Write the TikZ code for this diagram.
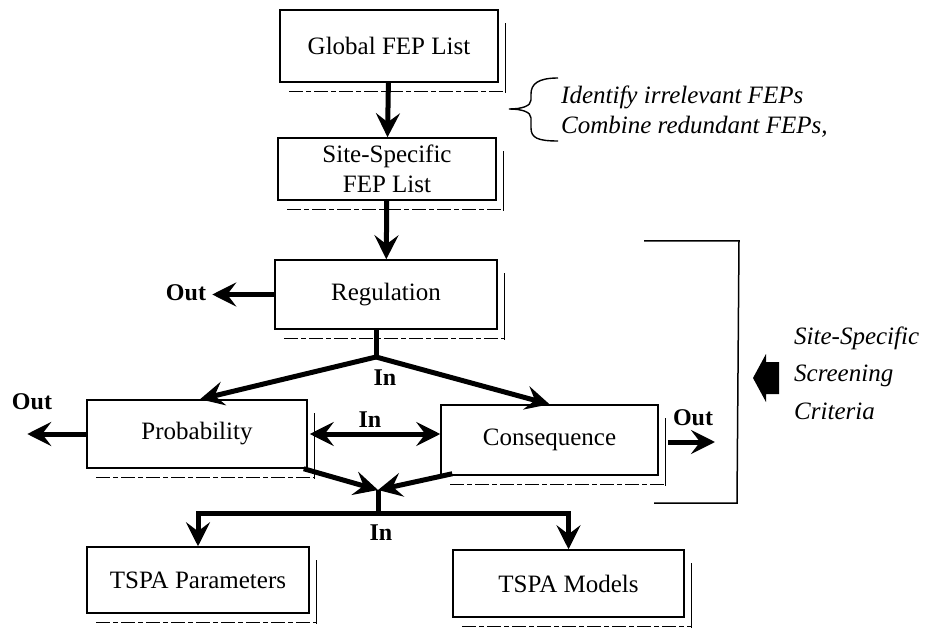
\documentclass[tikz,border=0pt]{standalone}
\usepackage{fontspec}
\setmainfont{Liberation Serif}
\usetikzlibrary{arrows.meta,calc}
\begin{document}
\begin{tikzpicture}[x=1pt,y=-1pt,
  box/.style={draw, line width=1.5pt, inner sep=0pt, align=center, font=\fontsize{25}{30}\selectfont},
  shline/.style={line width=1.2pt},
  shdash/.style={line width=1.2pt, dash pattern=on 14pt off 3pt on 5pt off 3pt},
  tip/.style={},
  arr/.style={line width=5pt, -{Stealth[length=24pt,width=24pt,inset=9pt]}},
  fat/.style={line width=5pt},
  lab/.style={font=\fontsize{24}{28}\selectfont\bfseries, inner sep=0pt},
  itl/.style={font=\fontsize{25}{30}\selectfont\itshape, inner sep=0pt, align=left},
  thin/.style={line width=1.5pt}]
\fill[white] (0,0) rectangle (929,631);
\useasboundingbox (0,0) rectangle (929,631);

% boxes
\node[box, minimum width=218pt, minimum height=72pt] (glob) at (389,46) {Global FEP List};
\node[box, minimum width=218pt, minimum height=62pt] (site) at (387,169) {Site-Specific\\FEP List};
\node[box, minimum width=222pt, minimum height=69pt] (reg) at (386,294.5) {Regulation};
\node[box, minimum width=220pt, minimum height=68pt] (prob) at (197,434) {Probability};
\node[box, minimum width=217pt, minimum height=70pt] (cons) at (549.5,440) {Consequence};
\node[box, minimum width=222pt, minimum height=66pt] (tpar) at (198,580) {TSPA Parameters};
\node[box, minimum width=231pt, minimum height=67pt] (tmod) at (568.5,583.5) {TSPA Models};

% shadows
\foreach \n in {glob,site,reg,prob,cons,tpar,tmod}{
  \draw[shline] ([xshift=7pt,yshift=-14pt]\n.north east) -- ([xshift=7pt,yshift=-10pt]\n.south east);
  \draw[shdash] ([xshift=10pt,yshift=-9pt]\n.south west) -- ([xshift=7pt,yshift=-9pt]\n.south east);
}

% vertical flow
\draw[arr] (glob) -- (site);
\draw[arr] (site) -- (reg);

% regulation out
\coordinate (o1) at ($(reg.west)+(-62,0)$);
\draw[arr] (reg.west) -- (o1);
\node[lab] (out1) at (186,293) {Out};

% branch to probability / consequence
\coordinate (b1) at (376,357);
\draw[fat] (reg.south -| b1) -- (b1);
\draw[arr] (b1) -- ($(prob.north)+(3,0)$);
\draw[arr] (b1) -- (cons.north);
\node[lab] (in1) at (385,378) {In};

% probability out
\coordinate (o2) at ($(prob.west)+(-59,0)$);
\draw[arr] (prob.west) -- (o2);
\node[lab] (out2) at (32,402) {Out};

% double arrow
\draw[line width=5pt, {Stealth[length=24pt,width=24pt,inset=9pt]}-{Stealth[length=24pt,width=24pt,inset=9pt]}]
  ($(prob.east)+(2,0)$) -- (prob.east -| cons.west);
\node[lab] (in2) at (370,420) {In};

% consequence out
\coordinate (o3) at (715,442);
\draw[arr] ($(cons.east)+(9,2)$) -- (o3);
\node[lab] (out3) at (693,418) {Out};

% merge
\coordinate (m) at (378,490);
\coordinate (j) at (378,513);
\draw[arr] ($(prob.south east)+(-4,0)$) -- (m);
\draw[arr] ($(cons.south west)+(12,-2)$) -- (m);
\draw[fat] (m) -- (j);
\draw[arr] (j) -| (tpar.north);
\draw[arr] (j) -| (tmod.north);
\node[lab] (in3) at (381,533) {In};

% bracket on the right
\draw[thin] (644,241) -- (739,241) -- (737,503) -- (654,503);

% block arrow
\fill (753,378) -- (766,354) -- (766,362) -- (779,362) -- (779,394) -- (766,394) -- (766,402) -- cycle;
\node[itl, anchor=west, font=\fontsize{25}{37.5}\selectfont\itshape] (crit) at (794,373) {Site-Specific\\Screening\\Criteria};

% brace
\draw[line width=1.4pt] (558,78) .. controls (538,78) and (531,84) .. (531,94)
  -- (531,100) .. controls (531,106) and (522,109) .. (509,109)
  .. controls (522,109) and (531,112) .. (531,118)
  -- (531,128) .. controls (531,138) and (538,141) .. (558,141);
\node[itl, anchor=west] (idf) at (561,112) {Identify irrelevant FEPs\\Combine redundant FEPs,};
\end{tikzpicture}
\end{document}
